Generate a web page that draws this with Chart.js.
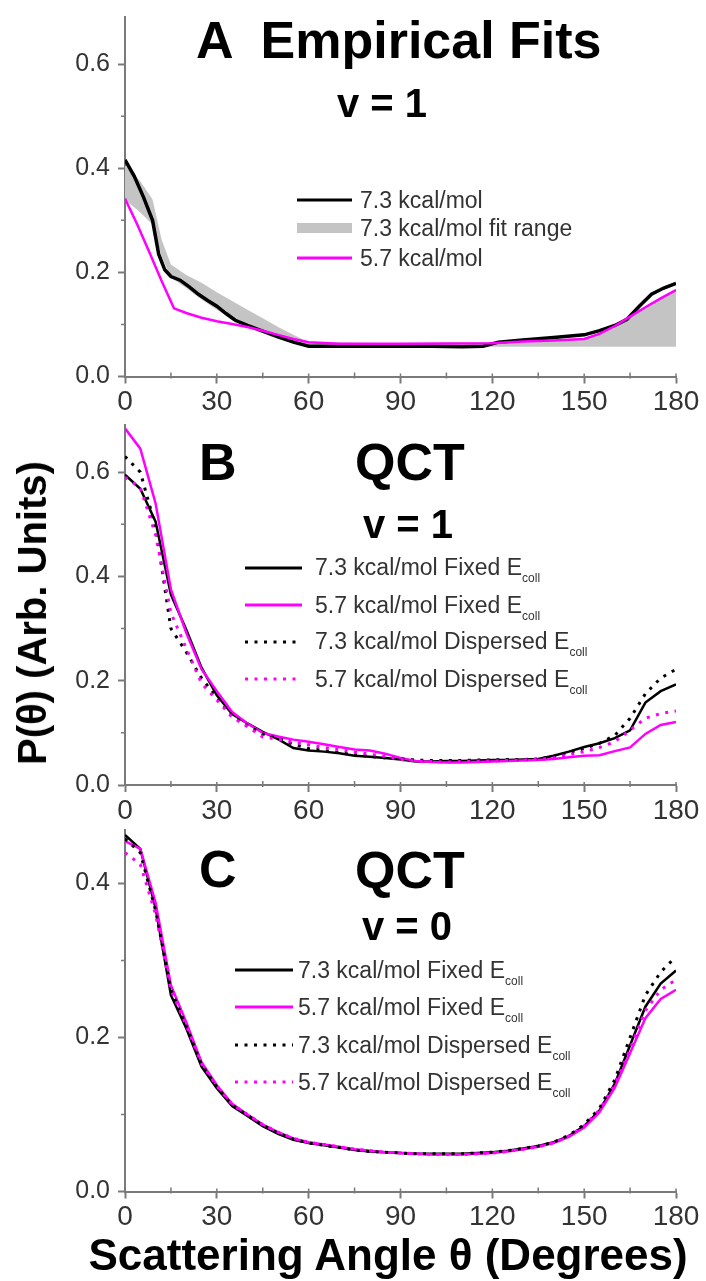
<!DOCTYPE html>
<html>
<head>
<meta charset="utf-8">
<script src="https://cdn.jsdelivr.net/npm/chart.js@4.4.0/dist/chart.umd.min.js"></script>
<style>
  body { margin: 0; background: #fff; font-family: "Liberation Sans", Arial, sans-serif; }
  #page { position: relative; width: 706px; height: 1281px; overflow: hidden; }
  canvas { position: absolute; left: 0; }
  .big { position: absolute; white-space: pre; line-height: 1; font-weight: bold; color: #000; }
  .row { position: absolute; height: 24px; }
  .row svg { position: absolute; top: 0; }
  .row span { position: absolute; top: 0; white-space: pre; font-size: 23px; line-height: 1; color: #333; }
  .row sub { font-size: 12px; vertical-align: -7px; line-height: 0; }
  #ytitle { position: absolute; font-weight: bold; font-size: 40px; line-height: 1; white-space: pre;
            transform: translate(-50%, -50%) rotate(-90deg); }
</style>
</head>
<body>
<div id="page">
  <canvas id="cA" width="706" height="420"></canvas>
  <canvas id="cB" width="706" height="420"></canvas>
  <canvas id="cC" width="706" height="420"></canvas>
  <div id="ytitle" style="left:32px; top:613px;">P(θ) (Arb. Units)</div>
</div>
<script>
// ---- panel A: empirical fits, v = 1 ----
const aBlackAng = [0, 3, 6, 9, 11, 13, 15, 18, 21, 24, 27, 30, 33, 36, 40, 45, 50, 55, 60, 70, 80, 90, 100, 110, 117, 122, 130, 140, 150, 155, 160, 164, 168, 172, 176, 180];
const aBlackVal = [0.416, 0.385, 0.345, 0.300, 0.235, 0.205, 0.192, 0.185, 0.172, 0.158, 0.146, 0.135, 0.121, 0.108, 0.098, 0.087, 0.076, 0.066, 0.058, 0.058, 0.058, 0.058, 0.058, 0.057, 0.058, 0.066, 0.070, 0.075, 0.080, 0.088, 0.098, 0.110, 0.135, 0.158, 0.170, 0.179];
const aMagAng = [0, 4, 8, 12, 16, 20, 25, 30, 35, 40, 45, 50, 55, 60, 70, 90, 120, 130, 140, 150, 155, 160, 165, 170, 175, 180];
const aMagVal = [0.342, 0.292, 0.238, 0.183, 0.131, 0.122, 0.113, 0.106, 0.101, 0.095, 0.088, 0.080, 0.072, 0.066, 0.063, 0.063, 0.064, 0.067, 0.069, 0.072, 0.082, 0.097, 0.115, 0.133, 0.150, 0.166];
const aBandAng = [0, 5, 9, 12, 15, 20, 25, 30, 35, 40, 45, 50, 55, 60, 90, 120, 150, 155, 160, 165, 170, 175, 180];
const aBandHi = [0.405, 0.375, 0.340, 0.262, 0.215, 0.195, 0.180, 0.162, 0.145, 0.128, 0.112, 0.095, 0.080, 0.066, 0.064, 0.066, 0.074, 0.084, 0.099, 0.118, 0.135, 0.152, 0.168];
const aBandLo = [0.340, 0.315, 0.292, 0.230, 0.190, 0.170, 0.148, 0.128, 0.110, 0.095, 0.083, 0.072, 0.064, 0.058, 0.057, 0.057, 0.057, 0.057, 0.057, 0.057, 0.057, 0.057, 0.057];

// ---- panels B and C: QCT, every 5 degrees ----
const qctAng = [0, 5, 10, 15, 20, 25, 30, 35, 40, 45, 50, 55, 60, 65, 70, 75, 80, 85, 90, 95, 100, 105, 110, 115, 120, 125, 130, 135, 140, 145, 150, 155, 160, 165, 170, 175, 180];
const bBlackFixed = [0.595, 0.568, 0.505, 0.365, 0.298, 0.225, 0.172, 0.136, 0.118, 0.102, 0.088, 0.071, 0.066, 0.064, 0.061, 0.056, 0.054, 0.052, 0.049, 0.045, 0.045, 0.046, 0.046, 0.047, 0.048, 0.048, 0.049, 0.050, 0.056, 0.064, 0.073, 0.080, 0.090, 0.105, 0.158, 0.180, 0.193];
const bMagFixed = [0.684, 0.645, 0.540, 0.375, 0.292, 0.222, 0.180, 0.140, 0.118, 0.100, 0.093, 0.087, 0.083, 0.078, 0.073, 0.068, 0.066, 0.060, 0.052, 0.046, 0.044, 0.043, 0.043, 0.044, 0.045, 0.046, 0.047, 0.048, 0.050, 0.053, 0.056, 0.057, 0.065, 0.072, 0.098, 0.115, 0.121];
const bBlackDisp = [0.630, 0.600, 0.495, 0.300, 0.255, 0.205, 0.168, 0.133, 0.114, 0.098, 0.090, 0.078, 0.070, 0.066, 0.062, 0.058, 0.055, 0.052, 0.050, 0.048, 0.047, 0.047, 0.047, 0.048, 0.048, 0.049, 0.049, 0.050, 0.055, 0.062, 0.070, 0.080, 0.095, 0.128, 0.175, 0.205, 0.222];
const bMagDisp = [0.590, 0.570, 0.480, 0.330, 0.262, 0.195, 0.163, 0.130, 0.112, 0.092, 0.088, 0.082, 0.077, 0.072, 0.068, 0.063, 0.059, 0.055, 0.049, 0.046, 0.045, 0.044, 0.045, 0.046, 0.046, 0.047, 0.048, 0.049, 0.052, 0.058, 0.064, 0.072, 0.083, 0.105, 0.128, 0.137, 0.142];
const cBlackFixed = [0.463, 0.445, 0.368, 0.255, 0.212, 0.162, 0.134, 0.111, 0.098, 0.085, 0.075, 0.067, 0.063, 0.060, 0.057, 0.054, 0.052, 0.051, 0.050, 0.049, 0.049, 0.049, 0.049, 0.050, 0.051, 0.053, 0.056, 0.059, 0.064, 0.072, 0.085, 0.105, 0.140, 0.190, 0.240, 0.270, 0.287];
const cMagFixed = [0.455, 0.445, 0.375, 0.268, 0.220, 0.168, 0.138, 0.114, 0.100, 0.087, 0.077, 0.069, 0.064, 0.061, 0.058, 0.055, 0.053, 0.051, 0.050, 0.049, 0.048, 0.048, 0.048, 0.049, 0.050, 0.052, 0.055, 0.058, 0.063, 0.071, 0.083, 0.103, 0.135, 0.180, 0.225, 0.250, 0.262];
const cBlackDisp = [0.458, 0.440, 0.365, 0.262, 0.215, 0.165, 0.136, 0.112, 0.099, 0.086, 0.076, 0.068, 0.063, 0.060, 0.057, 0.054, 0.052, 0.051, 0.050, 0.049, 0.049, 0.049, 0.049, 0.050, 0.051, 0.053, 0.056, 0.059, 0.064, 0.073, 0.087, 0.108, 0.145, 0.200, 0.255, 0.285, 0.305];
const cMagDisp = [0.440, 0.425, 0.360, 0.262, 0.216, 0.166, 0.137, 0.113, 0.100, 0.087, 0.077, 0.069, 0.064, 0.061, 0.058, 0.055, 0.053, 0.051, 0.050, 0.049, 0.048, 0.048, 0.048, 0.049, 0.050, 0.052, 0.055, 0.058, 0.063, 0.072, 0.085, 0.106, 0.138, 0.185, 0.235, 0.262, 0.275];

const legendA = ['7.3 kcal/mol', '7.3 kcal/mol fit range', '5.7 kcal/mol'];
const legendQCT = ['7.3 kcal/mol Fixed E', '5.7 kcal/mol Fixed E', '7.3 kcal/mol Dispersed E', '5.7 kcal/mol Dispersed E'];

const BLACK = '#000000', MAGENTA = '#ff00ff', BAND = '#c4c4c4', AXIS = '#7a7a7a', TICKTXT = '#333333';
const DOTS = [3, 6.5];

const pts = (ang, val) => ang.map((a, i) => ({x: a, y: val[i]}));

// minor ticks (unlabelled positions) drawn shorter than the labelled ones
const minorTicks = {
  id: 'minorTicks',
  afterDraw(chart) {
    const {ctx, scales: {x, y}, chartArea: a} = chart;
    ctx.save();
    ctx.strokeStyle = AXIS;
    ctx.lineWidth = 1.5;
    ctx.beginPath();
    x.ticks.forEach(t => {
      const px = x.getPixelForValue(t.value);
      if (t.label === '') { ctx.moveTo(px, a.bottom - 4); ctx.lineTo(px, a.bottom + 2); }
      else { ctx.moveTo(px, a.bottom - 3); ctx.lineTo(px, a.bottom); }
    });
    y.ticks.forEach(t => {
      if (t.label !== '') return;
      const py = y.getPixelForValue(t.value);
      ctx.moveTo(a.left - 4, py); ctx.lineTo(a.left, py);
    });
    ctx.stroke();
    ctx.restore();
  }
};

function line(data, color, width, dashed, order) {
  return {data, borderColor: color, borderWidth: width, borderDash: dashed ? DOTS : [],
          pointRadius: 0, fill: false, tension: 0, order};
}

function panel(id, top, chartTop, chartBottom, yMax, datasets) {
  const cv = document.getElementById(id);
  cv.style.top = top + 'px';
  const h = cv.height;
  return new Chart(cv, {
    type: 'line',
    data: {datasets},
    options: {
      responsive: false,
      animation: false,
      layout: {padding: {top: chartTop - top, right: 30, left: 0, bottom: 0}},
      plugins: {legend: {display: false}, tooltip: {enabled: false}},
      scales: {
        x: {
          type: 'linear', min: 0, max: 180,
          afterFit: s => { s.height = h - (chartBottom - top); s.paddingLeft = 0; s.paddingRight = 0; },
          border: {color: AXIS, width: 2},
          grid: {drawOnChartArea: false, tickLength: 7, tickWidth: 2,
                 tickColor: c => c.tick && c.tick.label === '' ? 'transparent' : AXIS},
          ticks: {stepSize: 15, autoSkip: false, maxRotation: 0, padding: 2, color: TICKTXT,
                  font: {size: 28, family: 'Liberation Sans'},
                  callback: v => (Math.round(v) % 30 === 0 ? String(Math.round(v)) : '')}
        },
        y: {
          min: 0, max: yMax,
          afterFit: s => { s.width = 125; s.paddingTop = 0; s.paddingBottom = 0; },
          border: {color: AXIS, width: 2},
          grid: {drawOnChartArea: false, tickLength: 7, tickWidth: 2,
                 tickColor: c => c.tick && c.tick.label === '' ? 'transparent' : AXIS},
          ticks: {stepSize: 0.1, includeBounds: false, padding: 8, color: TICKTXT,
                  font: {size: 25, family: 'Liberation Sans'},
                  callback: v => (Math.round(v * 10) % 2 === 0 ? v.toFixed(1) : '')}
        }
      }
    },
    plugins: [minorTicks]
  });
}

panel('cA', 0, 17.3, 376.5, 0.69, [
  {data: pts(aBandAng, aBandHi), borderWidth: 0, pointRadius: 0, backgroundColor: BAND, fill: '+1', order: 10},
  {data: pts(aBandAng, aBandLo), borderWidth: 0, pointRadius: 0, fill: false, order: 11},
  line(pts(aBlackAng, aBlackVal), BLACK, 3.5, false, 2),
  line(pts(aMagAng, aMagVal), MAGENTA, 2.5, false, 1)
]);

panel('cB', 410, 425.2, 785, 0.69, [
  line(pts(qctAng, bBlackFixed), BLACK, 2.5, false, 4),
  line(pts(qctAng, bMagFixed), MAGENTA, 2.5, false, 3),
  line(pts(qctAng, bBlackDisp), BLACK, 3, true, 2),
  line(pts(qctAng, bMagDisp), MAGENTA, 3, true, 1)
]);

panel('cC', 815, 829.6, 1191.5, 0.47, [
  line(pts(qctAng, cBlackFixed), BLACK, 2.5, false, 4),
  line(pts(qctAng, cMagFixed), MAGENTA, 2.5, false, 3),
  line(pts(qctAng, cBlackDisp), BLACK, 3, true, 2),
  line(pts(qctAng, cMagDisp), MAGENTA, 3, true, 1)
]);

// ---- text overlays ----
const page = document.getElementById('page');

function bigText(txt, size, left, baseline) {
  const d = document.createElement('div');
  d.className = 'big';
  d.textContent = txt;
  d.style.fontSize = size + 'px';
  d.style.left = left + 'px';
  d.style.top = (baseline - 0.8465 * size) + 'px';
  page.appendChild(d);
  return d;
}

bigText('A  Empirical Fits', 52, 196, 58);
bigText('v = 1', 40, 337, 117);
bigText('B', 52, 199, 480);
bigText('QCT', 52, 355, 480);
bigText('v = 1', 40, 363, 538);
bigText('C', 52, 199, 887);
bigText('QCT', 52, 355, 888);
bigText('v = 0', 40, 362, 940);

const xt = bigText('Scattering Angle θ (Degrees)', 44, 0, 1270);
xt.style.left = (388 - xt.offsetWidth / 2) + 'px';

function sample(kind, color, w) {
  const ns = 'http://www.w3.org/2000/svg';
  const svg = document.createElementNS(ns, 'svg');
  svg.setAttribute('width', w);
  svg.setAttribute('height', 24);
  const l = document.createElementNS(ns, 'line');
  l.setAttribute('x1', 0); l.setAttribute('x2', w);
  l.setAttribute('y1', 12); l.setAttribute('y2', 12);
  l.setAttribute('stroke', color);
  l.setAttribute('stroke-width', kind === 'band' ? 10 : 3);
  if (kind === 'dots') l.setAttribute('stroke-dasharray', DOTS.join(' '));
  svg.appendChild(l);
  return svg;
}

function legendRow(center, x0, x1, textLeft, kind, color, label, sub) {
  const r = document.createElement('div');
  r.className = 'row';
  r.style.left = x0 + 'px';
  r.style.top = (center - 12) + 'px';
  const s = sample(kind, color, x1 - x0);
  r.appendChild(s);
  const t = document.createElement('span');
  t.style.left = (textLeft - x0) + 'px';
  t.style.top = (12 - 11.3) + 'px';
  t.textContent = label;
  if (sub) {
    const sb = document.createElement('sub');
    sb.textContent = sub;
    t.appendChild(sb);
  }
  r.appendChild(t);
  page.appendChild(r);
}

legendRow(200, 297, 352, 360, 'solid', BLACK, legendA[0]);
legendRow(228, 297, 352, 360, 'band', BAND, legendA[1]);
legendRow(258, 297, 352, 360, 'solid', MAGENTA, legendA[2]);

const qctKinds = [['solid', BLACK], ['solid', MAGENTA], ['dots', BLACK], ['dots', MAGENTA]];
[567.7, 605, 641.7, 679].forEach((c, i) =>
  legendRow(c, 245, 302, 315, qctKinds[i][0], qctKinds[i][1], legendQCT[i], 'coll'));
[970, 1007, 1045, 1082].forEach((c, i) =>
  legendRow(c, 235, 293, 298, qctKinds[i][0], qctKinds[i][1], legendQCT[i], 'coll'));
</script>
</body>
</html>
